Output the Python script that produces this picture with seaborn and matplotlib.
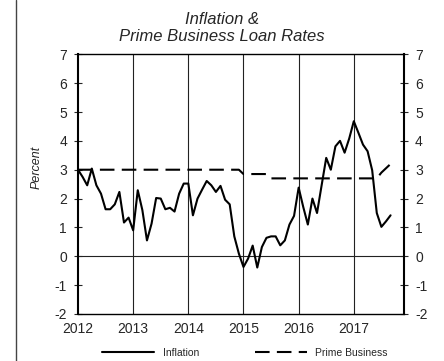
import numpy as np
import pandas as pd
from matplotlib import pyplot as plt
from matplotlib.lines import Line2D
import seaborn as sns

# monthly values, Jan 2012 onward
inflation = [3.0, 2.75, 2.46, 3.04, 2.46, 2.17, 1.63, 1.63, 1.80, 2.23, 1.17, 1.34,
             0.90, 2.29, 1.60, 0.55, 1.13, 2.02, 2.00, 1.63, 1.68, 1.55, 2.17, 2.52,
             2.52, 1.42, 2.00, 2.31, 2.61, 2.46, 2.23, 2.44, 1.96, 1.80, 0.69, 0.09,
             -0.37, -0.08, 0.37, -0.39, 0.32, 0.64, 0.69, 0.69, 0.38, 0.55, 1.10, 1.40,
             2.38, 1.71, 1.10, 2.00, 1.50, 2.46, 3.41, 3.00, 3.81, 4.00, 3.59, 4.08,
             4.68, 4.28, 3.87, 3.64, 2.98, 1.50, 1.02, 1.21, 1.42]
prime = [3.0] * 36 + [2.85] * 6 + [2.7] * 24 + [2.9, 3.05, 3.2, 3.2]

year_ticks = [2012, 2013, 2014, 2015, 2016, 2017]
y_ticks = [-2, -1, 0, 1, 2, 3, 4, 5, 6, 7]

df_inf = pd.DataFrame({"date": 2012 + np.arange(len(inflation)) / 12, "value": inflation})
df_prime = pd.DataFrame({"date": 2012 + np.arange(len(prime)) / 12, "value": prime})

sns.set_style("white")
plt.rcParams["font.family"] = ["Liberation Sans", "DejaVu Sans"]
plt.rcParams["axes.unicode_minus"] = False

fig = plt.figure(figsize=(4.44, 3.61), dpi=100)
ax = fig.add_axes([0.1757, 0.1302, 0.7342, 0.7194])

sns.lineplot(data=df_inf, x="date", y="value", ax=ax, color="black",
             linewidth=1.5, label="Inflation")
sns.lineplot(data=df_prime, x="date", y="value", ax=ax, color="black",
             linewidth=1.5, label="Prime Business", dashes=False)
ax.lines[1].set_dashes([7, 3.5])

ax.set_xlim(2012, 2017.91)
ax.set_ylim(-2, 7)
ax.set_xticks(year_ticks)
ax.set_xticklabels([str(y) for y in year_ticks])
ax.set_yticks(y_ticks)
ax.set_xlabel("")
ax.set_ylabel("")

for yr in year_ticks[1:]:
    ax.axvline(yr, color="#222222", linewidth=0.8, zorder=1)
ax.axhline(0, color="#222222", linewidth=0.8, zorder=1)

for side in ["left", "right", "top", "bottom"]:
    ax.spines[side].set_color("black")
    ax.spines[side].set_linewidth(1.0)
ax.spines["left"].set_linewidth(1.5)
ax.spines["right"].set_linewidth(1.5)

ax.tick_params(axis="y", which="both", direction="inout", length=6, width=0.8,
               left=True, right=True, labelleft=True, labelright=True,
               labelsize=10, pad=5)
ax.tick_params(axis="x", length=0, labelsize=10, pad=6)

fig.text(36.7 / 444, 1 - 167.5 / 361, "Percent", rotation=90, style="italic",
         fontsize=9, ha="center", va="center")
fig.text(0.5, 1 - 28 / 361, "Inflation &\nPrime Business Loan Rates",
         style="italic", fontsize=12, ha="center", va="center", linespacing=1.15)

ax.get_legend().remove()
handles = [Line2D([], [], color="black", linewidth=1.5),
           Line2D([], [], color="black", linewidth=1.5, dashes=[7, 3.5])]
fig.legend(handles, ["Inflation", "Prime Business"], loc="center",
           bbox_to_anchor=(245 / 444, 1 - 353 / 361), ncol=2, frameon=False,
           fontsize=7.5, handlelength=5, handletextpad=0.8, columnspacing=5.4)

fig.add_artist(Line2D([15.7 / 444, 15.7 / 444], [0, 1], color="#444444",
                      linewidth=1.0, transform=fig.transFigure))

fig.savefig("out.png", dpi=100)
